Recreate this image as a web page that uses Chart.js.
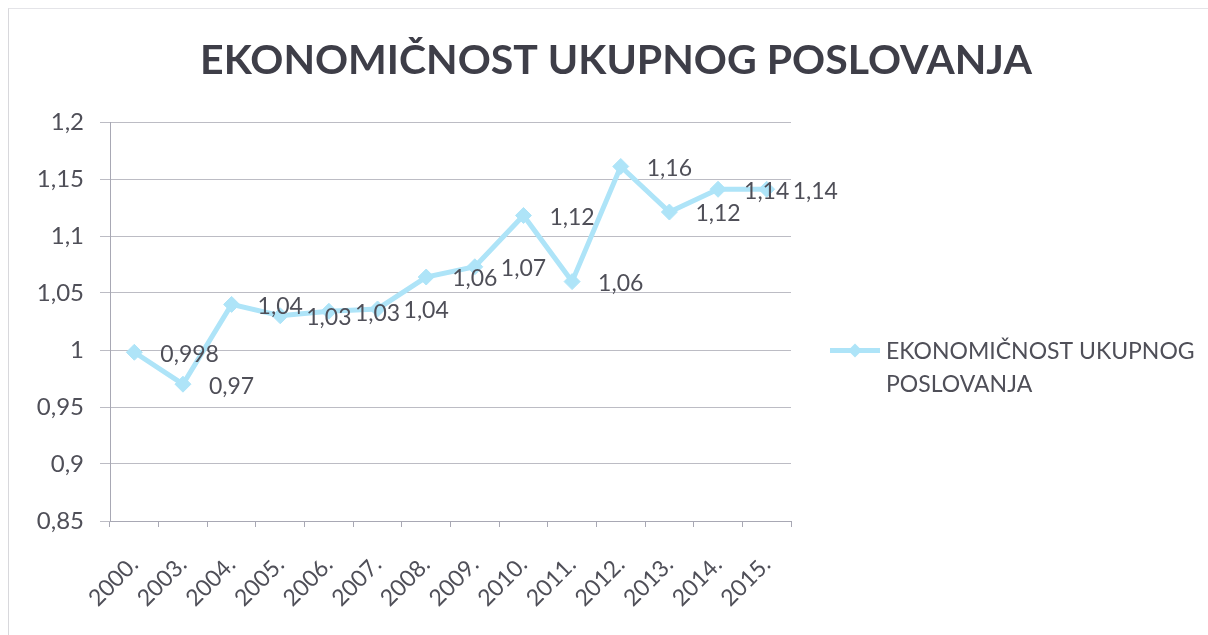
<!DOCTYPE html>
<html>
<head>
<meta charset="utf-8">
<script src="https://cdn.jsdelivr.net/npm/chart.js@4.4.1/dist/chart.umd.min.js"></script>
<style>
  html, body { margin: 0; padding: 0; background: #fff; }
  #wrap { position: relative; width: 1208px; height: 635px; }
  #frame { position: absolute; left: 8px; top: 8px; width: 1200px; height: 627px; border-left: 1px solid #d8d8dc; border-top: 1px solid #e4e4e8; box-sizing: border-box; pointer-events: none; }
</style>
</head>
<body>
<div id="wrap">
<canvas id="c" width="1208" height="635"></canvas>
<div id="frame"></div>
</div>
<script>
const categories = ['2000.', '2003.', '2004.', '2005.', '2006.', '2007.', '2008.', '2009.', '2010.', '2011.', '2012.', '2013.', '2014.', '2015.'];
const values = [0.998, 0.970, 1.040, 1.030, 1.034, 1.036, 1.064, 1.073, 1.118, 1.060, 1.161, 1.121, 1.141, 1.141];
const valueLabels = ['0,998', '0,97', '1,04', '1,03', '1,03', '1,04', '1,06', '1,07', '1,12', '1,06', '1,16', '1,12', '1,14', '1,14'];
const yTickLabels = ['0,85', '0,9', '0,95', '1', '1,05', '1,1', '1,15', '1,2'];
const seriesName = 'EKONOMIČNOST UKUPNOG POSLOVANJA';
const legendLines = ['EKONOMIČNOST UKUPNOG', 'POSLOVANJA'];

const FONT = 'Lato, "Open Sans", sans-serif';
const TEXT = '#4f4f58';
const LINE = '#aee4f8';

const titlePlugin = {
  id: 'centerTitle',
  afterDraw(chart) {
    const ctx = chart.ctx;
    ctx.save();
    ctx.font = 'bold 41px ' + FONT;
    ctx.fillStyle = '#3e3e48';
    ctx.textAlign = 'center';
    ctx.textBaseline = 'middle';
    ctx.fillText(seriesName, 616, 61);
    ctx.restore();
  }
};

const dataLabelPlugin = {
  id: 'dataLabels',
  afterDatasetsDraw(chart) {
    const ctx = chart.ctx;
    const meta = chart.getDatasetMeta(0);
    ctx.save();
    ctx.font = '23px ' + FONT;
    ctx.fillStyle = TEXT;
    ctx.textAlign = 'left';
    ctx.textBaseline = 'middle';
    meta.data.forEach((pt, i) => {
      ctx.fillText(valueLabels[i], pt.x + 26, pt.y + 2);
    });
    ctx.restore();
  }
};

const legendPlugin = {
  id: 'sideLegend',
  afterDraw(chart) {
    const ctx = chart.ctx;
    const a = chart.chartArea;
    const x0 = a.right + 39;
    const y0 = (a.top + a.bottom) / 2 + 29;
    ctx.save();
    ctx.strokeStyle = LINE;
    ctx.lineWidth = 5;
    ctx.beginPath();
    ctx.moveTo(x0, y0);
    ctx.lineTo(x0 + 50, y0);
    ctx.stroke();
    ctx.fillStyle = LINE;
    ctx.beginPath();
    const cx = x0 + 25, r = 7;
    ctx.moveTo(cx, y0 - r); ctx.lineTo(cx + r, y0); ctx.lineTo(cx, y0 + r); ctx.lineTo(cx - r, y0);
    ctx.closePath();
    ctx.fill();
    ctx.font = '23px ' + FONT;
    ctx.fillStyle = TEXT;
    ctx.textAlign = 'left';
    ctx.textBaseline = 'middle';
    legendLines.forEach((t, i) => ctx.fillText(t, x0 + 56, y0 + 1 + i * 33));
    ctx.restore();
  }
};

new Chart(document.getElementById('c'), {
  type: 'line',
  data: {
    labels: categories,
    datasets: [{
      label: seriesName,
      data: values,
      borderColor: LINE,
      backgroundColor: LINE,
      borderWidth: 5,
      pointStyle: 'rectRot',
      pointRadius: 8,
      pointHoverRadius: 8,
      pointBackgroundColor: LINE,
      pointBorderColor: LINE,
      pointBorderWidth: 1,
      tension: 0,
      fill: false
    }]
  },
  options: {
    responsive: false,
    animation: false,
    devicePixelRatio: 1,
    layout: { padding: { left: 0, right: 417, top: 122, bottom: 0 } },
    plugins: {
      legend: { display: false },
      tooltip: { enabled: false },
      title: { display: false }
    },
    scales: {
      x: {
        type: 'category',
        offset: true,
        grid: { display: true, offset: true, drawOnChartArea: false, drawTicks: true, tickLength: 6, color: '#a8a8b4' },
        border: { display: true, color: '#a8a8b4', width: 1 },
        ticks: { color: TEXT, font: { family: FONT, size: 23 }, minRotation: 45, maxRotation: 45, autoSkip: false, padding: 24 },
        afterFit(s) { s.height = 114; }
      },
      y: {
        min: 0.85,
        max: 1.2,
        ticks: {
          stepSize: 0.05,
          color: TEXT,
          font: { family: FONT, size: 24 },
          padding: 16,
          callback: (v, i) => yTickLabels[i]
        },
        grid: { color: '#bcbcc4', tickLength: 10, lineWidth: 1 },
        border: { display: true, color: '#a8a8b4', width: 1 },
        afterFit(s) { s.width = 110; }
      }
    }
  },
  plugins: [dataLabelPlugin, legendPlugin, titlePlugin]
});
</script>
</body>
</html>
